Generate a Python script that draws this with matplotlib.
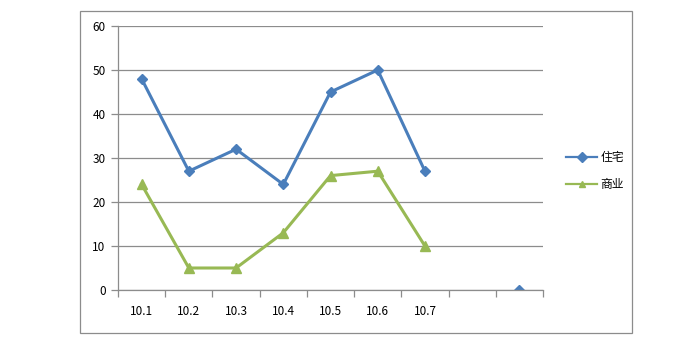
import matplotlib
matplotlib.use("Agg")
import matplotlib.pyplot as plt
import numpy as np
from matplotlib.patches import Rectangle

plt.rcParams['font.family'] = ['Noto Sans CJK SC', 'DejaVu Sans']

# ── Data ──────────────────────────────────────────────────────────
categories = ["10.1", "10.2", "10.3", "10.4", "10.5", "10.6", "10.7", "", ""]
zhuzhai = [48, 27, 32, 24, 45, 50, 27, np.nan, 0]
shangye = [24, 5, 5, 13, 26, 27, 10, np.nan, np.nan]

BLUE = "#4A7EBB"
GREEN = "#98B954"
GRID = "#8C8C8C"

fig = plt.figure(figsize=(6.82, 3.61), dpi=100)
fig.patch.set_facecolor("white")

# outer chart frame
fig.patches.append(Rectangle((80 / 682, 1 - 333 / 361), 552 / 682, 322 / 361,
                             transform=fig.transFigure, fill=False,
                             edgecolor="#8C8C8C", linewidth=0.9))

ax = fig.add_axes([118 / 682, 1 - 290 / 361, 425 / 682, 264 / 361])
x = np.arange(len(categories))

ax.plot(x, zhuzhai, color=BLUE, linewidth=2.2, marker="D", markersize=5.5, label="住宅")
ax.plot(x, shangye, color=GREEN, linewidth=2.2, marker="^", markersize=6.5, label="商业")

ax.set_xlim(-0.5, len(categories) - 0.5)
ax.set_ylim(0, 60)
ax.set_yticks(range(0, 61, 10))
ax.yaxis.grid(True, color=GRID, linewidth=0.9)
ax.set_axisbelow(True)

ax.set_xticks(x)
ax.set_xticklabels(categories)
ax.set_xticks(np.arange(-0.5, len(categories), 1), minor=True)
ax.tick_params(axis="x", which="major", length=0, pad=11, labelsize=8.5)
ax.tick_params(axis="x", which="minor", length=5, color=GRID, width=0.9)
ax.tick_params(axis="y", length=5, color=GRID, width=0.9, labelsize=8.5, pad=4)

for s in ["top", "right"]:
    ax.spines[s].set_visible(False)
for s in ["left", "bottom"]:
    ax.spines[s].set_color(GRID)
    ax.spines[s].set_linewidth(0.9)

leg = ax.legend(loc="center left", bbox_to_anchor=(1.03, 0.45), frameon=False,
                fontsize=8.5, handlelength=2.6, handletextpad=0.3, labelspacing=1.2)
for h in leg.legend_handles:
    h.set_linewidth(1.6)
    h.set_markersize(5)

fig.savefig("out.png", dpi=100)
